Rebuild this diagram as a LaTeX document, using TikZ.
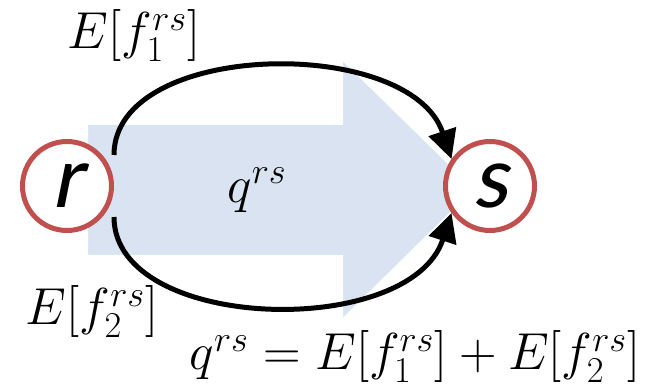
\RequirePackage{fix-cm}
\documentclass[tikz,border=0pt]{standalone}
\usepackage{fontspec}
\usepackage{amsmath}
\usepackage{tikz}
\usetikzlibrary{arrows.meta,positioning}
\newfontface\zonefont[FakeSlant=0.2]{Carlito}
\definecolor{flowblue}{RGB}{218,227,241}
\definecolor{zonered}{RGB}{192,80,77}

\begin{document}
\begin{tikzpicture}[x=0.5pt,y=-0.5pt,
  zone/.style={circle,draw=zonered,line width=2.5pt,fill=white,minimum size=44.5pt,inner sep=0pt,
    font=\zonefont\fontsize{45}{45}\selectfont},
  route/.style={line width=2.5pt,-{Triangle[length=14.5pt,width=14pt]}},
  lbl/.style={font=\fontsize{26}{30}\selectfont}]
  \useasboundingbox (0,0) rectangle (648,389);
  \filldraw[fill=flowblue,draw=white,line width=1pt] (87,124) -- (342,124) -- (342,59) -- (475,189)
    -- (342,320) -- (342,256) -- (87,256) -- cycle;
  \node[zone] (r) at (67,186) {r};
  \node[zone] (s) at (490,186) {s};
  \draw[route] ([yshift=15.5pt]r.east) .. controls +(0,-115) and (410,35) .. (s.145);
  \draw[route] ([yshift=-15.5pt]r.east) .. controls +(0,115) and (410,340) .. (s.215);
  \node[lbl] (f1) at (134,36) {$E[f_1^{rs}]$};
  \node[lbl] (f2) at (92,312) {$E[f_2^{rs}]$};
  \node[lbl] (q) at (257,190) {$q^{rs}$};
  \node[lbl] (sum) at (415,357) {$q^{rs}=E[f_1^{rs}]+E[f_2^{rs}]$};
\end{tikzpicture}
\end{document}
